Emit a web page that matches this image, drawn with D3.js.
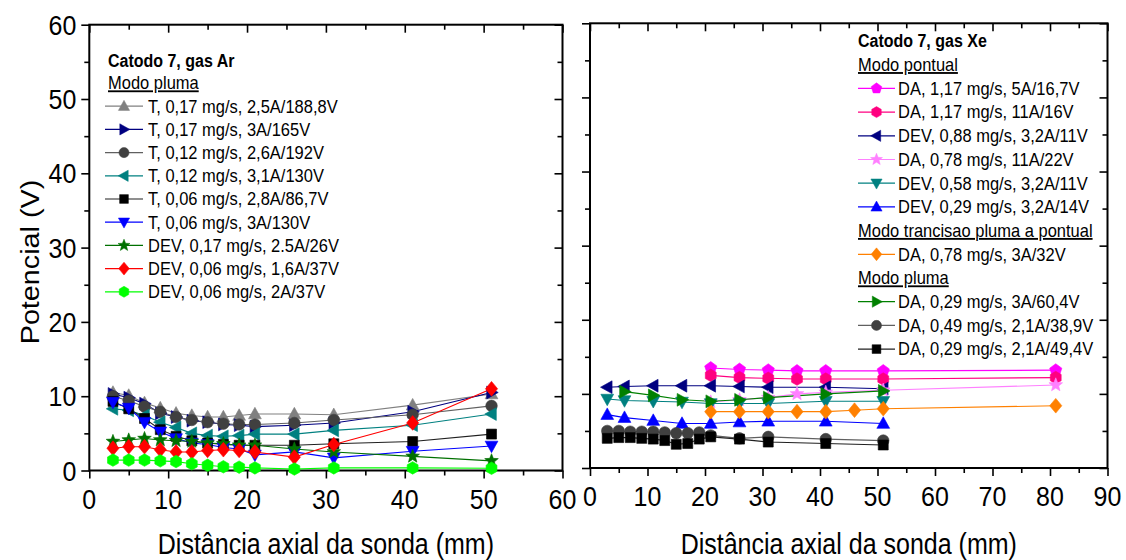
<!DOCTYPE html>
<html><head><meta charset="utf-8">
<script src="https://cdn.jsdelivr.net/npm/d3@7"></script>
<style>body{margin:0;background:#fff}svg{display:block;font-family:"Liberation Sans",Arial,sans-serif}</style>
</head><body><svg id="c" width="1126" height="560"></svg>
<script>
// ---------- DATA ----------
// Left panel: Catodo 7, gas Ar
const arX = [3,5,7,9,11,13,15,17,19,21,26,31,41,51];
const arT017_25 = [10.5,10.1,9.1,8.4,7.7,7.4,7.2,7.2,7.4,7.6,7.6,7.5,8.8,10.3];
const arT017_3 = [10.3,9.8,9.0,7.7,7.2,6.7,6.5,6.2,6.1,5.9,6.1,6.4,7.9,10.5];
const arT012_26 = [10.0,9.4,8.6,7.9,7.2,6.8,6.5,6.3,6.2,6.2,6.4,6.8,7.5,8.7];
const arT012_31 = [8.3,8.1,7.4,6.5,5.8,5.0,4.7,4.6,4.7,4.9,4.9,5.4,6.1,7.6];
const arT006_28 = [9.3,8.3,7.0,5.5,4.6,4.0,3.7,3.5,3.4,3.4,3.4,3.6,3.9,4.9];
const arT006_3 = [9.2,8.4,6.5,5.2,4.3,3.7,3.5,3.1,2.9,2.1,2.5,1.7,2.6,3.3];
const arDEV017 = [3.9,4.1,4.3,4.1,4.0,3.9,3.7,3.6,3.4,3.4,2.9,2.5,1.9,1.3];
const arDEV006_16 = [3.0,3.2,3.2,2.8,2.5,2.5,2.7,2.8,2.7,2.5,1.8,3.5,6.4,11.0];
const arDEV006_2 = [1.4,1.4,1.4,1.3,1.2,0.9,0.7,0.5,0.45,0.35,0.2,0.35,0.35,0.3];
const arLabels = ["T, 0,17 mg/s, 2,5A/188,8V","T, 0,17 mg/s, 3A/165V","T, 0,12 mg/s, 2,6A/192V",
  "T, 0,12 mg/s, 3,1A/130V","T, 0,06 mg/s, 2,8A/86,7V","T, 0,06 mg/s, 3A/130V",
  "DEV, 0,17 mg/s, 2.5A/26V","DEV, 0,06 mg/s, 1,6A/37V","DEV, 0,06 mg/s, 2A/37V"];

// Right panel: Catodo 7, gas Xe
const xeXda = [21,26,31,36,41,51,81];
const xeXorange = [21,26,31,36,41,46,51,81];
const xeXdev = [3,6,11,16,21,26,31,41,51];
const xeXgreen = [6,11,16,21,26,31,41,51];
const xeXfine = [3,5,7,9,11,13,15,17,19,21,26,31,41,51];
const xeDA117_5 = [13.5,13.3,13.2,13.1,13.1,13.1,13.2];
const xeDA117_11 = [12.5,12.2,12.1,12.0,12.0,12.0,12.2];
const xeDEV088 = [10.9,11.0,11.1,11.1,11.1,11.0,10.9,10.9,10.7];
const xeDA078_11 = [8.9,9.2,9.5,10.0,10.2,10.5,11.2];
const xeDEV058 = [9.3,9.1,9.0,8.9,8.7,8.7,8.7,9.0,9.0];
const xeDEV029 = [7.2,6.8,6.4,6.0,6.0,6.2,6.3,6.3,6.0];
const xeDA078_3 = [7.6,7.6,7.6,7.6,7.6,7.8,8.0,8.4];
const xeDA029_3 = [10.3,9.8,9.2,9.0,9.2,9.5,10.0,10.4];
const xeDA049 = [5.0,5.0,4.9,4.9,4.9,4.8,4.7,4.7,4.8,4.4,4.0,4.2,3.9,3.7];
const xeDA029_21 = [4.0,4.1,4.1,4.0,3.9,3.7,3.2,3.3,3.9,4.2,3.9,3.5,3.3,3.1];
const xeLabels = ["DA, 1,17 mg/s, 5A/16,7V","DA, 1,17 mg/s, 11A/16V","DEV, 0,88 mg/s, 3,2A/11V",
  "DA, 0,78 mg/s, 11A/22V","DEV, 0,58 mg/s, 3,2A/11V","DEV, 0,29 mg/s, 3,2A/14V",
  "DA, 0,78 mg/s, 3A/32V","DA, 0,29 mg/s, 3A/60,4V","DA, 0,49 mg/s, 2,1A/38,9V","DA, 0,29 mg/s, 2,1A/49,4V"];

const xTicksLeft = [0,10,20,30,40,50,60];
const xTicksRight = [0,10,20,30,40,50,60,70,80,90];
const yTicks = [0,10,20,30,40,50,60];
const axisTitleX = "Distância axial da sonda (mm)";
const axisTitleY = "Potencial (V)";

// ---------- STYLE / SERIES CONFIG ----------
const leftSeries = [
  {x:arX,y:arT017_25,c:"#808080",s:"triUp",lab:arLabels[0]},
  {x:arX,y:arT017_3,c:"#000080",s:"triRight",lab:arLabels[1]},
  {x:arX,y:arT012_26,c:"#404040",lc:"#606060",s:"circle",lab:arLabels[2]},
  {x:arX,y:arT012_31,c:"#008080",s:"triLeft",lab:arLabels[3]},
  {x:arX,y:arT006_28,c:"#000000",lc:"#202020",s:"square",lab:arLabels[4]},
  {x:arX,y:arT006_3,c:"#0000FF",s:"triDown",lab:arLabels[5]},
  {x:arX,y:arDEV017,c:"#007000",s:"star",lab:arLabels[6]},
  {x:arX,y:arDEV006_16,c:"#FF0000",s:"diamond",lab:arLabels[7]},
  {x:arX,y:arDEV006_2,c:"#00FF00",s:"hexagon",lab:arLabels[8]}
];
const rightSeries = [
  {x:xeXda,y:xeDA117_5,c:"#FF00FF",s:"pentagon",lab:xeLabels[0]},
  {x:xeXda,y:xeDA117_11,c:"#FF0080",s:"hexagon",lab:xeLabels[1]},
  {x:xeXdev,y:xeDEV088,c:"#000080",s:"triLeft",lab:xeLabels[2]},
  {x:xeXda,y:xeDA078_11,c:"#FF80FF",s:"star",lab:xeLabels[3]},
  {x:xeXdev,y:xeDEV058,c:"#008080",s:"triDown",lab:xeLabels[4]},
  {x:xeXdev,y:xeDEV029,c:"#0000FF",s:"triUp",lab:xeLabels[5]},
  {x:xeXorange,y:xeDA078_3,c:"#FF8000",s:"diamond",lab:xeLabels[6]},
  {x:xeXgreen,y:xeDA029_3,c:"#008000",s:"triRight",lab:xeLabels[7]},
  {x:xeXfine,y:xeDA049,c:"#404040",lc:"#606060",s:"circle",lab:xeLabels[8]},
  {x:xeXfine,y:xeDA029_21,c:"#000000",lc:"#202020",s:"square",lab:xeLabels[9]}
];

// ---------- SYMBOLS ----------
function poly(pts){return "M"+pts.map(p=>p[0].toFixed(2)+","+p[1].toFixed(2)).join("L")+"Z";}
function sym(type,r){
  switch(type){
    case "triUp": return poly([[0,-r*1.05],[r,r*0.75],[-r,r*0.75]]);
    case "triDown": return poly([[0,r*1.05],[r,-r*0.75],[-r,-r*0.75]]);
    case "triLeft": return poly([[-r*1.05,0],[r*0.75,-r],[r*0.75,r]]);
    case "triRight": return poly([[r*1.05,0],[-r*0.75,-r],[-r*0.75,r]]);
    case "square": return poly([[-r*0.78,-r*0.78],[r*0.78,-r*0.78],[r*0.78,r*0.78],[-r*0.78,r*0.78]]);
    case "diamond": return poly([[0,-r*1.15],[r*0.95,0],[0,r*1.15],[-r*0.95,0]]);
    case "circle": {const a=r*0.9;return `M${a},0A${a},${a} 0 1,1 ${-a},0A${a},${a} 0 1,1 ${a},0Z`;}
    case "hexagon": return poly(d3.range(6).map(i=>{const t=-Math.PI/2+i*Math.PI/3;return [Math.cos(t)*r*0.98,Math.sin(t)*r*0.98];}));
    case "pentagon": return poly(d3.range(5).map(i=>{const t=-Math.PI/2+i*2*Math.PI/5;return [Math.cos(t)*r,Math.sin(t)*r];}));
    case "star": return poly(d3.range(10).map(i=>{const t=-Math.PI/2+i*Math.PI/5;const rr=i%2?r*0.48:r*1.12;return [Math.cos(t)*rr,Math.sin(t)*rr];}));
  }
}

const svg = d3.select("#c");
const SY = 1.12; // vertical stretch of the reference's lettering

function txt(g,x,y,str,size,opts={}){
  const t = g.append("text").attr("transform",`translate(${x},${y}) scale(1,${opts.sy||SY})`)
    .attr("text-anchor",opts.anchor||"start").style("font-size",size+"px").attr("fill","#000").text(str);
  if(opts.bold) t.style("font-weight","bold");
  if(opts.under) t.attr("text-decoration","underline");
  return t;
}

function panel(o){
  const x = d3.scaleLinear().domain(o.xd).range([o.l,o.r]);
  const y = d3.scaleLinear().domain([0,60]).range([o.b,o.t]);
  const g = svg.append("g");
  const xMinor = d3.range(o.xd[0]+5,o.xd[1],10);
  const yMinor = d3.range(5,60,10);
  function style(sel){sel.select(".domain").remove();sel.selectAll("text").remove();sel.selectAll("line").attr("stroke","#000").attr("stroke-width",1.6);}
  g.append("g").attr("transform",`translate(0,${o.b})`).call(d3.axisBottom(x).tickValues(o.xt).tickSize(8)).call(style);
  g.append("g").attr("transform",`translate(0,${o.b})`).call(d3.axisBottom(x).tickValues(xMinor).tickSize(5)).call(style);
  g.append("g").attr("transform",`translate(0,${o.t})`).call(d3.axisTop(x).tickValues(o.xt).tickSize(-8)).call(style);
  g.append("g").attr("transform",`translate(0,${o.t})`).call(d3.axisTop(x).tickValues(xMinor).tickSize(-5)).call(style);
  g.append("g").attr("transform",`translate(${o.l},0)`).call(d3.axisLeft(y).tickValues(yTicks).tickSize(8)).call(style);
  g.append("g").attr("transform",`translate(${o.l},0)`).call(d3.axisLeft(y).tickValues(yMinor).tickSize(5)).call(style);
  g.append("g").attr("transform",`translate(${o.r},0)`).call(d3.axisRight(y).tickValues(yTicks).tickSize(-8)).call(style);
  g.append("g").attr("transform",`translate(${o.r},0)`).call(d3.axisRight(y).tickValues(yMinor).tickSize(-5)).call(style);
  // tick labels
  o.xt.forEach(v=>txt(g,x(v),o.b+38,String(v),25,{anchor:"middle"}));
  if(o.ylab) yTicks.forEach(v=>txt(g,o.l-13,y(v)+10,String(v),25,{anchor:"end"}));
  // frame
  g.append("rect").attr("x",o.l).attr("y",o.t).attr("width",o.r-o.l).attr("height",o.b-o.t)
    .attr("fill","none").attr("stroke","#000").attr("stroke-width",2);
  // series
  const line = d3.line().x(d=>x(d[0])).y(d=>y(d[1]));
  o.series.forEach(s=>{
    const pts = s.x.map((v,i)=>[v,s.y[i]]);
    g.append("path").attr("d",line(pts)).attr("fill","none").attr("stroke",s.lc||s.c).attr("stroke-width",1.1);
  });
  o.series.forEach(s=>{
    const pts = s.x.map((v,i)=>[v,s.y[i]]);
    g.selectAll(null).data(pts).enter().append("path")
      .attr("transform",d=>`translate(${x(d[0])},${y(d[1])})`)
      .attr("d",sym(s.s,6.4)).attr("fill",s.c).attr("stroke",s.c).attr("stroke-width",0.6);
  });
  // x title
  txt(g,(o.l+o.r)/2,554,axisTitleX,25,{anchor:"middle",sy:1.15});
  // legend
  const L = o.leg;
  const lg = g.append("g");
  L.rows.forEach((row,i)=>{
    const cy = L.y0 + L.dy*i + (i===0?0:L.off);
    if(row.type==="title"){
      txt(lg,L.tx0,cy+6,row.text,16,{bold:true});
    } else if(row.type==="head"){
      txt(lg,L.tx0,cy+6.3,row.text,16.5,{under:true});
    } else {
      const s = row.s;
      lg.append("line").attr("x1",L.lx1).attr("x2",L.lx2).attr("y1",cy).attr("y2",cy).attr("stroke",s.lc||s.c).attr("stroke-width",1.2);
      lg.append("path").attr("transform",`translate(${(L.lx1+L.lx2)/2},${cy})`).attr("d",sym(s.s,5.6)).attr("fill",s.c).attr("stroke",s.c).attr("stroke-width",0.5);
      txt(lg,L.tx,cy+6.3,s.lab,16.5);
    }
  });
}

const leftRows = [{type:"title",text:"Catodo 7, gas Ar"},{type:"head",text:"Modo pluma"}]
  .concat(leftSeries.map(s=>({type:"item",s})));
const rightRows = [{type:"title",text:"Catodo 7, gas Xe"},{type:"head",text:"Modo pontual"}]
  .concat(rightSeries.slice(0,6).map(s=>({type:"item",s})))
  .concat([{type:"head",text:"Modo trancisao pluma a pontual"},{type:"item",s:rightSeries[6]},{type:"head",text:"Modo pluma"}])
  .concat(rightSeries.slice(7).map(s=>({type:"item",s})));

panel({xd:[0,60],xt:xTicksLeft,l:89.3,r:562.5,t:24.7,b:470.5,ylab:true,series:leftSeries,
  leg:{rows:leftRows,y0:60.5,dy:23.2,off:-0.7,tx0:108,lx1:105,lx2:143,tx:148}});
panel({xd:[0,90],xt:xTicksRight,l:590,r:1107.5,t:23.3,b:468,ylab:false,series:rightSeries,
  leg:{rows:rightRows,y0:41,dy:23.7,off:0,tx0:858,lx1:858,lx2:895,tx:898}});

// y title (stretched along its length like the reference)
svg.append("text").attr("transform","translate(39,262) rotate(-90) scale(1.15,1)").attr("text-anchor","middle")
  .style("font-size","25px").text(axisTitleY);
</script></body></html>
